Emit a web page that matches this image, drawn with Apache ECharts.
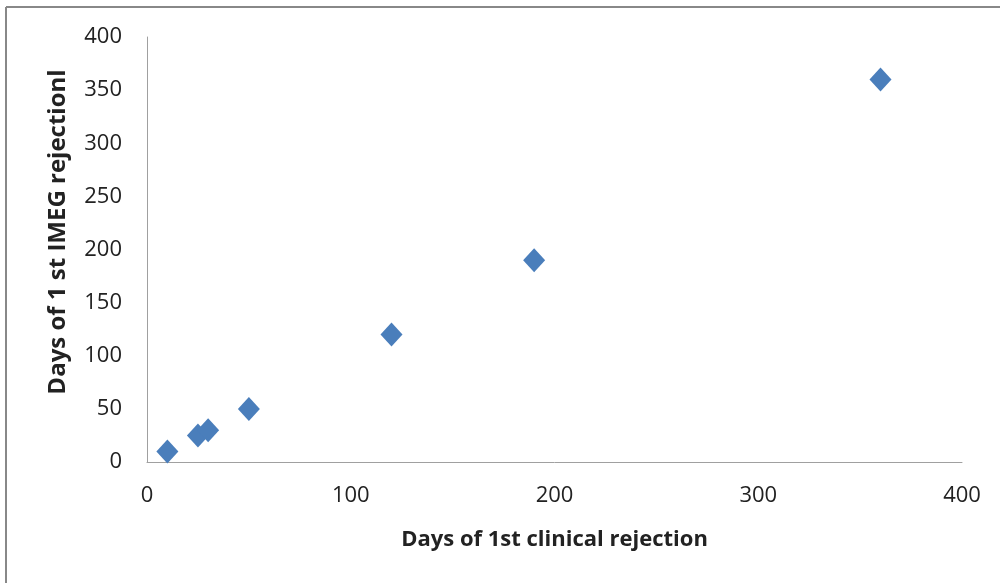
<!DOCTYPE html>
<html>
<head>
<meta charset="utf-8">
<script src="https://cdn.jsdelivr.net/npm/echarts@6/dist/echarts.min.js"></script>
<style>
html,body{margin:0;padding:0;background:#fff;}
#c{width:1000px;height:583px;}
</style>
</head>
<body>
<div id="c"></div>
<script>
const clinicalDays = [10, 25, 30, 50, 120, 190, 360];
const imegDays = [10, 25, 30, 50, 120, 190, 360];
const xTicks = [0, 100, 200, 300, 400];
const yTicks = [0, 50, 100, 150, 200, 250, 300, 350, 400];
const xTitle = 'Days of 1st clinical rejection';
const yTitle = 'Days of 1 st IMEG rejectionl';

const chart = echarts.init(document.getElementById('c'), null, {renderer: 'canvas'});
const font = 'Open Sans, Liberation Sans, sans-serif';
chart.setOption({
  animation: false,
  backgroundColor: '#fff',
  grid: {left: 147, right: 38, top: 37, bottom: 121, containLabel: false},
  xAxis: {
    type: 'value', min: xTicks[0], max: xTicks[xTicks.length-1], interval: 100,
    splitLine: {show: false},
    axisLine: {show: true, onZero: false, lineStyle: {color: '#a0a0a0', width: 1}},
    axisTick: {show: false},
    axisLabel: {color: '#222', fontSize: 22, fontFamily: font, margin: 23},
    name: xTitle, nameLocation: 'middle', nameGap: 67,
    nameTextStyle: {color: '#222', fontSize: 22, fontWeight: 'bold', fontFamily: font}
  },
  yAxis: {
    type: 'value', min: yTicks[0], max: yTicks[yTicks.length-1], interval: 50,
    splitLine: {show: false},
    axisLine: {show: true, onZero: false, lineStyle: {color: '#a0a0a0', width: 1}},
    axisTick: {show: false},
    axisLabel: {color: '#222', fontSize: 22, fontFamily: font, margin: 25},
    name: yTitle, nameLocation: 'middle', nameGap: 77,
    nameTextStyle: {color: '#222', fontSize: 24, fontWeight: 'bold', fontFamily: font, padding: [0, 0, 0, 35]}
  },
  graphic: [
    {type: 'line', shape: {x1: 6, y1: 7, x2: 1000, y2: 7}, style: {stroke: '#888', lineWidth: 2}},
    {type: 'line', shape: {x1: 6, y1: 7, x2: 6, y2: 583}, style: {stroke: '#888', lineWidth: 2}}
  ],
  series: [{
    type: 'scatter',
    symbol: 'diamond',
    symbolSize: [22, 24],
    itemStyle: {color: '#4A7EBB', opacity: 1},
    data: clinicalDays.map((x, i) => [x, imegDays[i]])
  }]
});
</script>
</body>
</html>
